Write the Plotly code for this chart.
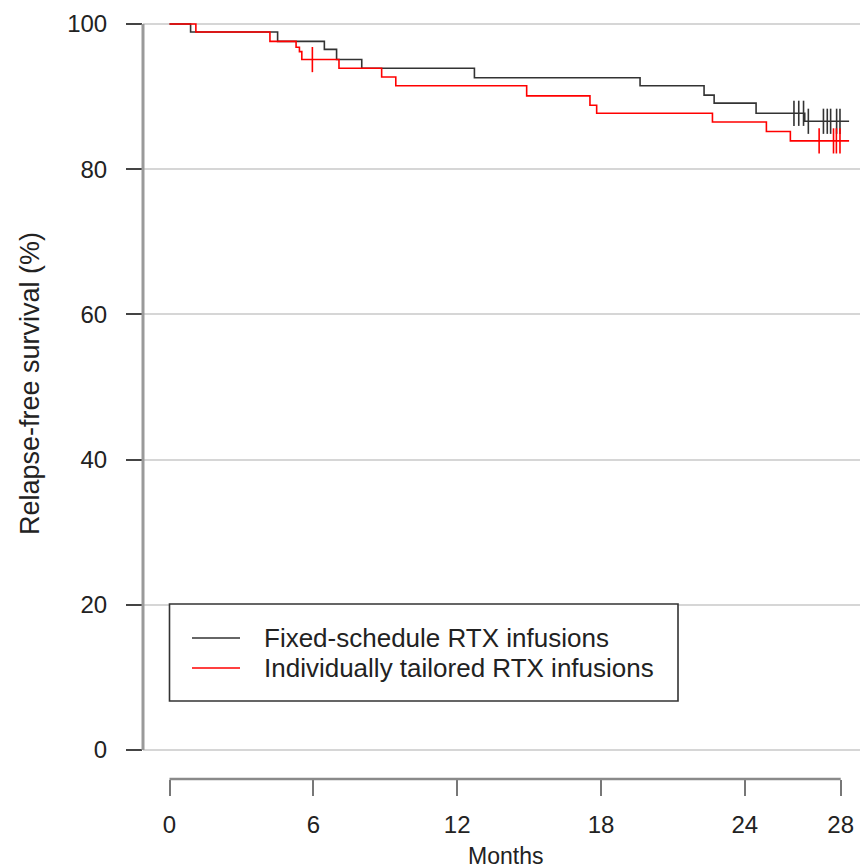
import plotly.graph_objects as go

# ---------------- data ----------------
fixed_times = [0, 0.88, 4.51, 6.46, 6.97, 8.02, 12.72, 19.63, 22.30, 22.72, 24.47, 26.50]
fixed_surv = [100, 98.9, 97.6, 96.5, 95.1, 93.9, 92.6, 91.5, 90.2, 89.1, 87.7, 86.6]
fixed_censor = [26.05, 26.25, 26.45, 26.65, 27.28, 27.44, 27.58, 27.83, 27.97]

tail_times = [0, 1.10, 4.19, 5.28, 5.42, 5.52, 7.07, 8.85, 9.44, 14.90, 17.54, 17.82, 22.65, 24.90, 25.90]
tail_surv = [100, 98.9, 97.6, 96.8, 96.2, 95.1, 93.9, 92.7, 91.5, 90.1, 88.8, 87.7, 86.5, 85.2, 83.9]
tail_censor = [5.96, 27.10, 27.70, 27.82, 27.97]

follow_up_end = 28.35
x_ticks = [0, 6, 12, 18, 24, 28]
y_ticks = [0, 20, 40, 60, 80, 100]
names = ["Fixed-schedule RTX infusions", "Individually tailored RTX infusions"]
colors = ["#333333", "#ff0000"]


def step_value(times, surv, t):
    v = surv[0]
    for ti, si in zip(times, surv):
        if ti <= t:
            v = si
    return v


# ---------------- layout geometry (pixels) ----------------
W, H = 860, 868
L, R, T, B = 143, 860, 17, 779
k = (840.7 - 169.5) / 28.0          # px per month
x0px = 169.5                         # pixel of month 0
ypx_per = (750 - 24) / 100.0         # px per %
x_range = [(L - x0px) / k, (R - x0px) / k]
y_range = [-(B - 750) / ypx_per, 100 + (24 - T) / ypx_per]


def px(p):
    return (p - L) / (R - L)


def py(p):
    return (B - p) / (B - T)


FONT = "Liberation Sans, Arial, sans-serif"

fig = go.Figure()
for times, surv, cens, name, col in [
    (fixed_times, fixed_surv, fixed_censor, names[0], colors[0]),
    (tail_times, tail_surv, tail_censor, names[1], colors[1]),
]:
    fig.add_trace(go.Scatter(
        x=times + [follow_up_end], y=surv + [surv[-1]],
        mode="lines", line=dict(shape="hv", color=col, width=1.6),
        name=name, showlegend=False, hoverinfo="skip"))
    fig.add_trace(go.Scatter(
        x=cens, y=[step_value(times, surv, t) for t in cens],
        mode="markers",
        marker=dict(symbol="line-ns", size=18, line=dict(color=col, width=1.6)),
        name=name + " (censored)", showlegend=False, hoverinfo="skip"))

fig.update_layout(
    width=W, height=H,
    margin=dict(l=L, r=W - R, t=T, b=H - B, pad=0),
    paper_bgcolor="white", plot_bgcolor="white",
    font=dict(family=FONT, size=24, color="#222222"),
    showlegend=False,
    xaxis=dict(
        range=x_range, tickvals=x_ticks, ticktext=[str(v) for v in x_ticks],
        showgrid=False, zeroline=False, showline=False,
        ticks="outside", ticklen=16, tickwidth=2, tickcolor="#777777",
        ticklabelstandoff=8,
        tickfont=dict(size=24, color="#222222"),
    ),
    yaxis=dict(
        range=y_range, tickvals=y_ticks, ticktext=[str(v) for v in y_ticks],
        showgrid=True, gridcolor="#d6d6d6", gridwidth=2,
        zeroline=False, showline=False,
        ticks="outside", ticklen=16, tickwidth=1.6, tickcolor="#444444",
        ticklabelstandoff=14,
        tickfont=dict(size=24, color="#222222"),
    ),
)

# axis titles
fig.add_annotation(xref="paper", yref="paper", x=px(30), y=py(384),
                   text="Relapse-free survival (%)", textangle=-90, showarrow=False,
                   xanchor="center", yanchor="middle",
                   font=dict(family=FONT, size=27, color="#222222"))
fig.add_annotation(xref="paper", yref="paper", x=px(505), y=py(856),
                   text="Months", showarrow=False, xanchor="center", yanchor="middle",
                   font=dict(family=FONT, size=23, color="#222222"))

# axis lines drawn only over the data span (R base-graphics style)
fig.add_shape(type="line", xref="paper", yref="y", x0=0, x1=0, y0=0, y1=100,
              line=dict(color="#9a9a9a", width=3), layer="above")
fig.add_shape(type="line", xref="x", yref="paper", x0=0, x1=28, y0=0, y1=0,
              line=dict(color="#8a8a8a", width=2.5), layer="above")

# legend box
fig.add_shape(type="rect", xref="paper", yref="paper",
              x0=px(169.5), x1=px(678), y0=py(701), y1=py(604),
              line=dict(color="#333333", width=1.6), fillcolor="white", layer="above")
for i, (name, col) in enumerate(zip(names, colors)):
    yc = 638 + 30 * i
    fig.add_shape(type="line", xref="paper", yref="paper",
                  x0=px(192), x1=px(240), y0=py(yc), y1=py(yc),
                  line=dict(color=col, width=1.6), layer="above")
    fig.add_annotation(xref="paper", yref="paper", x=px(262), y=py(yc),
                       text=name, showarrow=False, xanchor="left", yanchor="middle",
                       font=dict(family=FONT, size=26, color="#222222"))

fig.write_html("out.html", config={"displayModeBar": False},
               post_script="document.body.style.margin='0';")
